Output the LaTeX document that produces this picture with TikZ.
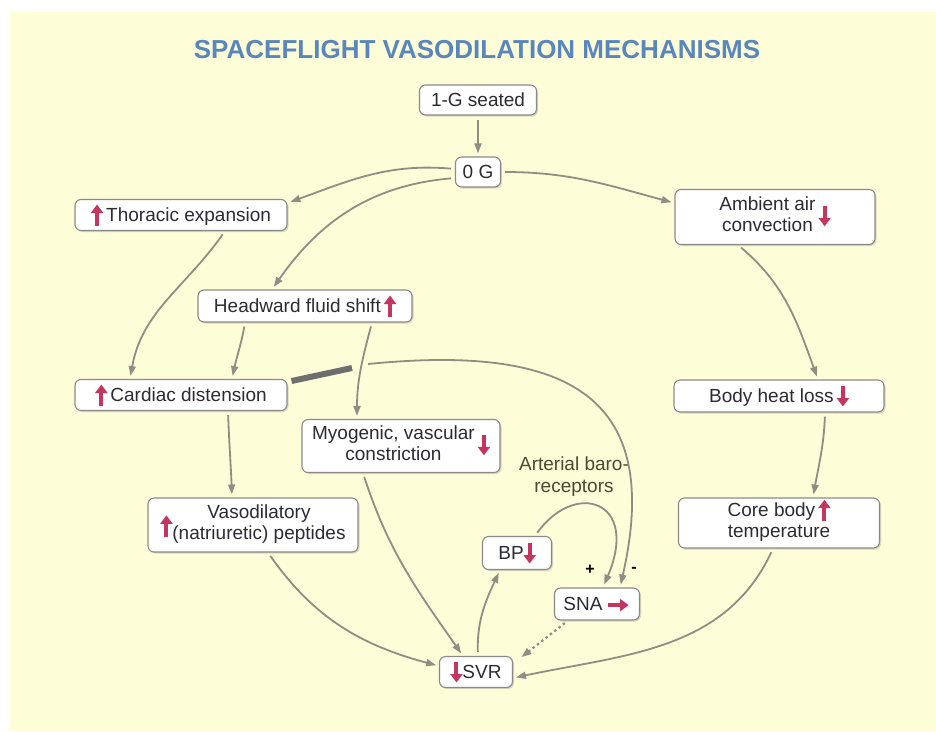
\documentclass[tikz,border=0pt]{standalone}
\usepackage{fontspec}
\setmainfont{Liberation Sans}
\usetikzlibrary{arrows.meta,shadows}
\definecolor{paper}{HTML}{FDFDD8}
\definecolor{titleblue}{HTML}{5A86BE}
\definecolor{boxline}{HTML}{8A8A8A}
\definecolor{inktext}{HTML}{2B2B33}
\definecolor{linkgray}{HTML}{8E8E84}
\definecolor{bargray}{HTML}{6E6E6E}
\definecolor{markred}{HTML}{C4365F}
\definecolor{olivetext}{HTML}{4A4A32}
\tikzset{
  markline/.style={draw=markred, line width=4pt, -{Triangle[length=8.5pt,width=12pt]}},
  box/.style={
    rectangle, rounded corners=6pt, draw=boxline, line width=1.1pt,
    fill=white, text=inktext, inner xsep=6pt, inner ysep=3pt,
    minimum height=30pt, font=\fontsize{19pt}{21pt}\selectfont,
    drop shadow={shadow xshift=1.5pt, shadow yshift=-1.5pt, opacity=0.3, fill=gray}
  },
  link/.style={draw=linkgray, line width=1.8pt, -{Triangle[length=10pt,width=7pt]},
    shorten >=3pt, shorten <=4pt},
  barline/.style={draw=bargray, line width=6pt},
  tag/.style={text=olivetext, align=center, font=\fontsize{19pt}{22pt}\selectfont},
  sign/.style={text=black, font=\bfseries\fontsize{16pt}{16pt}\selectfont},
}
\newcommand{\incmark}{\tikz[baseline=0pt]\draw[markline] (0,-4pt) -- (0,17pt);}
\newcommand{\decmark}{\tikz[baseline=0pt]\draw[markline] (0,17pt) -- (0,-4pt);}
\newcommand{\samemark}{\tikz[baseline=0pt]\draw[markline] (0,5pt) -- (21pt,5pt);}
\newcommand{\incmarkc}{\tikz[baseline={([yshift=-3pt]current bounding box.center)}]\draw[markline] (0,-11pt) -- (0,11pt);}
\newcommand{\decmarkc}{\tikz[baseline={([yshift=-5pt]current bounding box.center)}]\draw[markline] (0,10pt) -- (0,-10pt);}
\newcommand{\twoline}[2]{\begin{tabular}{@{}c@{}}#1\\#2\end{tabular}}
\begin{document}
\begin{tikzpicture}[x=1pt,y=1pt]
  \fill[white] (0,0) rectangle (936,-731);
  \fill[paper] (10,-12) rectangle (936,-731);
  \useasboundingbox (0,0) rectangle (936,-731);
  \node[text=titleblue, font=\bfseries\fontsize{26pt}{30pt}\selectfont] (title) at (477,-50) {SPACEFLIGHT VASODILATION MECHANISMS};
  % upper chain
  \node[box, minimum width=117pt] (seated) at (478,-100) {1-G seated};
  \node[box, minimum width=45pt, inner xsep=4pt] (zeroG) at (478,-172) {0 G};
  \node[box, minimum width=212pt] (thor) at (181,-215) {\incmark\,Thoracic expansion};
  \node[box, minimum width=200pt, minimum height=55pt] (amb) at (775,-217) {\twoline{Ambient air}{convection}\,\decmarkc};
  \node[box, minimum width=214pt, minimum height=32pt] (head) at (305,-306) {Headward fluid shift\,\incmark};
  \node[box, minimum width=212pt] (card) at (181,-395) {\incmark\,Cardiac distension};
  \node[box, minimum width=210pt, minimum height=32pt] (heat) at (779,-396) {Body heat loss\,\decmark};
  \node[box, minimum width=198pt, minimum height=53pt] (myo) at (401,-446) {\twoline{Myogenic, vascular}{constriction}\,\decmarkc};
  \node[box, minimum width=210pt, minimum height=54pt] (vaso) at (253,-525) {\incmarkc\twoline{Vasodilatory}{(natriuretic) peptides}};
  \node[box, minimum width=201pt, minimum height=50pt] (core) at (779,-523) {\twoline{Core body\,\smash{\incmark}}{temperature}};
  % reflex loop
  \node[box, minimum width=69pt, minimum height=33pt] (bp) at (517,-553) {BP\decmark};
  \node[box, minimum width=85pt, minimum height=32pt] (sna) at (597,-604) {SNA\,\samemark};
  \node[box, minimum width=73pt] (svr) at (476,-672) {\decmark SVR};
  \node[tag] (baro) at (574,-477) {Arterial baro-\\receptors};
  \node[sign] (plus) at (590,-570) {+};
  \node[sign] (minus) at (634,-570) {-};
  \coordinate (cutA) at (352,-368);
  \coordinate (cutB) at (368,-364);

  \draw[link] (seated) -- (zeroG);
  \draw[link] ([yshift=3pt]zeroG.west) to[out=175,in=20] ([yshift=12pt]thor.east);
  \draw[link] ([yshift=-6pt]zeroG.west) to[out=185,in=55] ([xshift=-33pt]head.north);
  \draw[link] (zeroG.east) to[out=0,in=165] ([yshift=14pt]amb.west);
  \foreach \a/\sa/\b/\sb/\o/\i in {thor/44/card/-51/235/80, head/-60/card/51/-100/78,
      head/67/myo/-44/-105/90, card/47/vaso/-21/-88/92, amb/-37/heat/39/-40/110,
      heat/46/core/34/-92/80, myo/-38/svr/-13/-72/125}
    \draw[link] ([xshift=\sa pt]\a.south) to[out=\o,in=\i] ([xshift=\sb pt]\b.north);
  \draw[link] ([xshift=-6pt]core.south) to[out=245,in=12] ([yshift=-6pt]svr.east);
  \draw[link] ([xshift=15pt]vaso.south) to[out=-55,in=165] ([yshift=6pt]svr.west);
  \draw[link] ([xshift=2pt]svr.north) to[out=92,in=245] ([xshift=-17pt]bp.south);
  \draw[link] ([xshift=18pt]bp.north) .. controls (575,-480) and (640,-500) .. ([xshift=6pt]sna.north);
  % inhibition from cardiac distension
  \draw[barline] ([xshift=4pt,yshift=14pt]card.east) -- (cutA);
  \draw[link, shorten <=0pt] (cutB) .. controls (560,-345) and (665,-390) .. ([xshift=23pt]sna.north);
  \draw[link, line width=2.2pt, dash pattern=on 2.5pt off 3pt] ([xshift=-29pt]sna.south) -- ([xshift=6pt,yshift=-3pt]svr.north east);
\end{tikzpicture}
\end{document}
